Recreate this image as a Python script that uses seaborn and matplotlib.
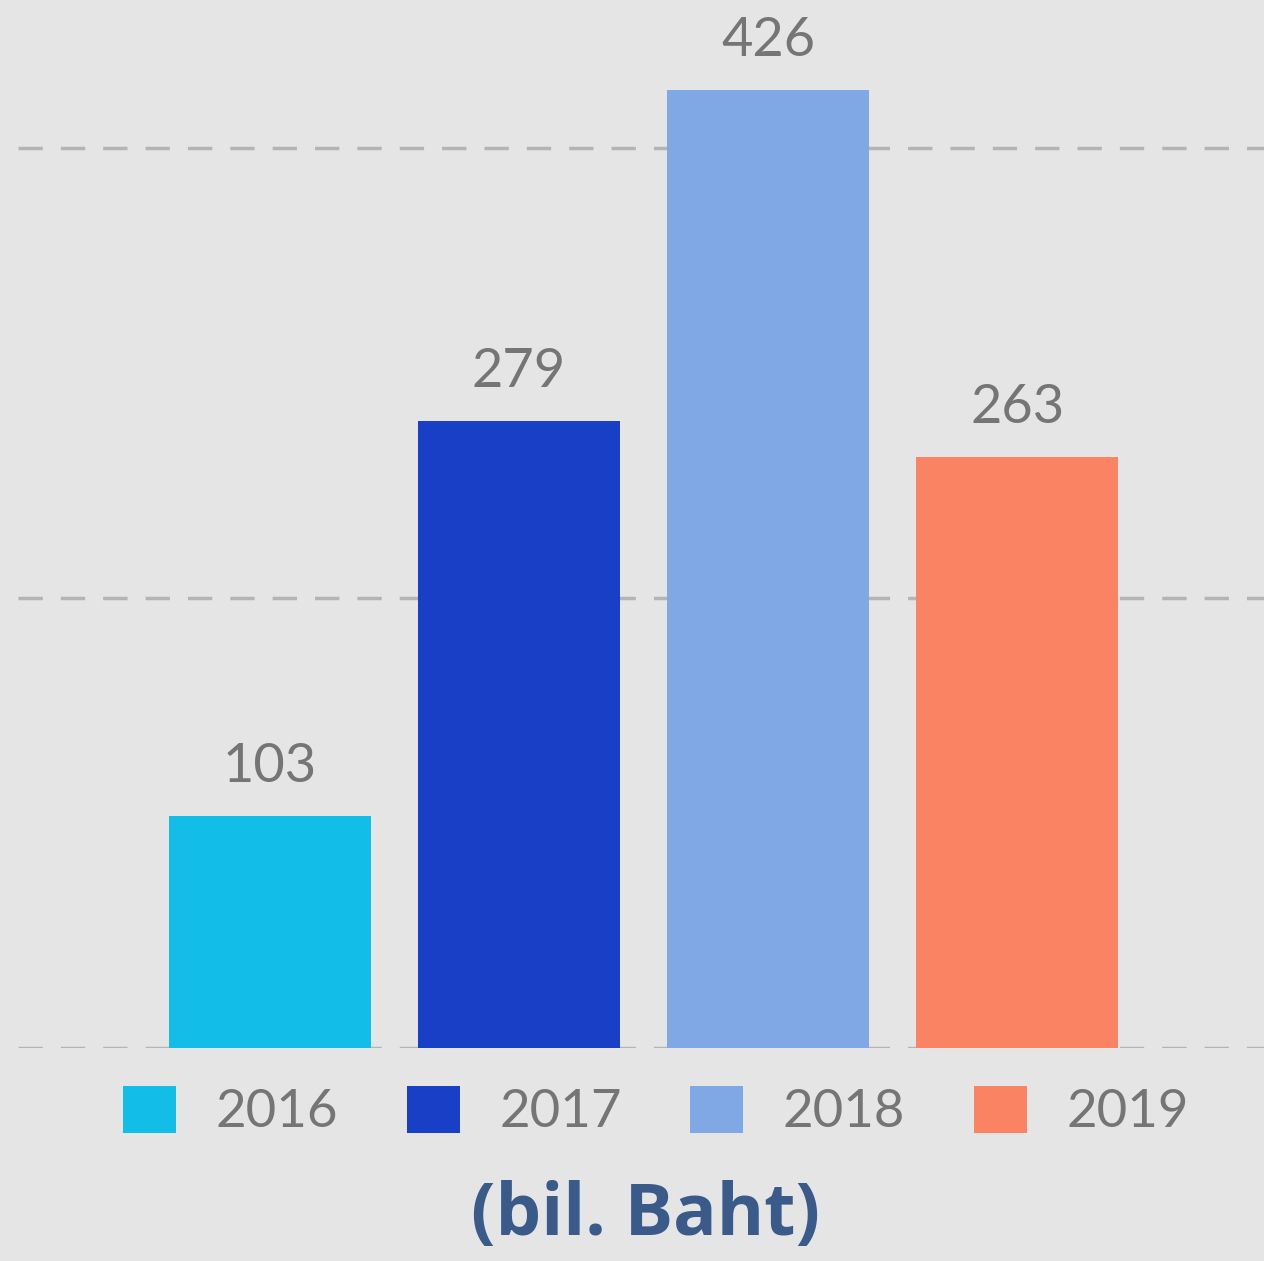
import matplotlib
matplotlib.use("Agg")
import matplotlib.pyplot as plt
import seaborn as sns
import pandas as pd
from matplotlib.patches import Patch

years = ["2016", "2017", "2018", "2019"]
values = [103, 279, 426, 263]
colors = ["#12bde8", "#1a3fc7", "#80a8e4", "#f98363"]
unit_label = "(bil. Baht)"

sns.set_theme(style="white")
plt.rcParams["font.family"] = ["Lato", "DejaVu Sans"]

bg = "#e5e5e5"
fig = plt.figure(figsize=(12.64, 12.61), dpi=100, facecolor=bg)
ax = fig.add_axes([18 / 1264, 213 / 1261, 1 - 18 / 1264, 1 - 213 / 1261])
ax.set_facecolor(bg)

df = pd.DataFrame({"year": years, "value": values})
sns.barplot(data=df, x="year", y="value", hue="year", palette=colors,
            width=0.81, dodge=False, legend=False, ax=ax, saturation=1,
            linewidth=0, edgecolor="none", zorder=3)

ax.set_xlim(-1.01, 3.99)
ax.set_ylim(0, 466)
ax.yaxis.grid(True, color="#b4b4b4", linestyle=(0, (7, 5.2)), linewidth=2.5, zorder=0)
ax.xaxis.grid(False)
ax.set_axisbelow(True)
for s in ax.spines.values():
    s.set_visible(False)
ax.set_xticks([])
ax.set_yticks([0, 200, 400], labels=["", "", ""])
ax.tick_params(length=0)
ax.set_xlabel("")
ax.set_ylabel("")

for cont in ax.containers:
    ax.bar_label(cont, fmt="%d", padding=18, fontsize=39, color="#757575")

handles = [Patch(facecolor=c, edgecolor="none") for c in colors]
leg = fig.legend(handles, years, loc="center", bbox_to_anchor=(656 / 1264, 1 - 1111 / 1261),
                 ncol=4, frameon=False, fontsize=38, handlelength=1.0, handleheight=1.0,
                 handletextpad=0.75, columnspacing=1.3, labelcolor="#757575")

fig.text(645 / 1264, 1 - 1216 / 1261, unit_label, ha="center", va="center",
         fontsize=52, fontweight="bold", color="#3a5a8a",
         family=["Open Sans", "DejaVu Sans"])

fig.savefig("out.png", dpi=100, facecolor=bg)
